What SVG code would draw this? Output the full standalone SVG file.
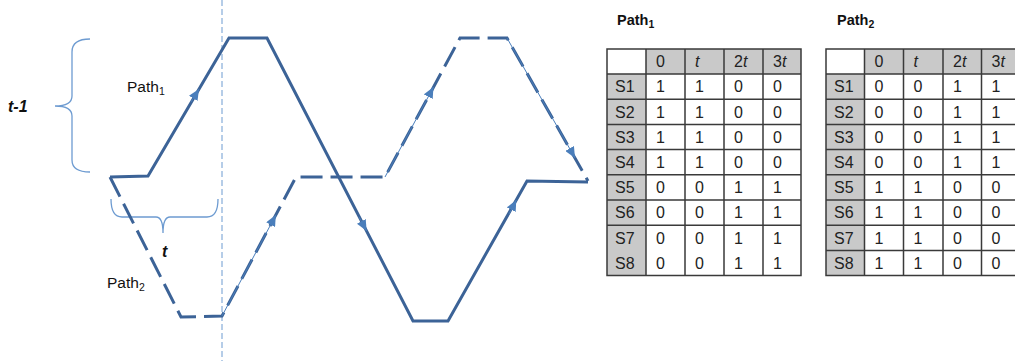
<svg xmlns="http://www.w3.org/2000/svg" width="1015" height="361" viewBox="0 0 1015 361">
<style>
.main{fill:none;stroke:#3c6397;stroke-width:3;stroke-linejoin:miter}
.dash{stroke-dasharray:22 8}
.arr{fill:none;stroke:#4a7ebb;stroke-width:1;marker-end:url(#ah)}
.brace{fill:none;stroke:#6d9bd1;stroke-width:1.3}
.guide{stroke:#6d9bd1;stroke-width:1;stroke-dasharray:6 3}
.lbl{font-family:"Liberation Sans",Arial,sans-serif;font-size:15.5px;fill:#111}
.it{font-family:"Liberation Sans",Arial,sans-serif;font-size:16px;font-style:italic;font-weight:bold;fill:#111}
.ttl{font-family:"Liberation Sans",Arial,sans-serif;font-size:14.5px;font-weight:bold;fill:#111}
.sub{font-size:10.5px}
.cell{font-family:"Liberation Sans",Arial,sans-serif;font-size:16px;fill:#222}
.gray{fill:#c9c9c9}
.grid{stroke:#3a3a3a;stroke-width:1.5;fill:none}
</style>
<defs>
<marker id="ah" markerUnits="userSpaceOnUse" markerWidth="12" markerHeight="10" refX="11" refY="5" orient="auto">
<path d="M0,0 L11,5 L0,10 z" fill="#4a7ebb"/>
</marker>
</defs>
<rect width="1015" height="361" fill="#fff"/>
<line id="guide" class="guide" x1="222" y1="0" x2="222" y2="361"/>
<g id="braces">
<path class="brace" d="M90,39 Q72,39 72,52 L72,96 Q72,106 55,106 Q72,106 72,116 L72,160 Q72,172 90,172"/>
<path class="brace" d="M111,199 Q111,217 122,217 L156,217 Q163,217 163,233 Q163,217 170,217 L207,217 Q218,217 218,199"/>
</g>
<g id="connectors">
<path id="path1" class="main" d="M110,177 L148,176 L229,38 L267,38 L413,321 L448,321 L527,181 L588,182"/>
<path id="path2" class="main dash" d="M110,177 L181,317 L222,316 L296,177 L385,177 L460,38 L507,38 L588,181"/>
<path class="arr" d="M191,102 L199,89"/>
<path class="arr" d="M222,316 L275.8,215"/>
<path class="arr" d="M359,217 L366.6,231"/>
<path class="arr" d="M509,214 L516.3,200"/>
<path class="arr" d="M385,177 L433.5,87"/>
<path class="arr" d="M507,38 L575,158"/>
</g>
<g id="labels">
<text class="it" x="8" y="112">t-1</text>
<text class="it" x="162" y="257">t</text>
<text class="lbl" x="127" y="92">Path<tspan class="sub" dy="3">1</tspan></text>
<text class="lbl" x="107" y="288">Path<tspan class="sub" dy="3">2</tspan></text>
</g>
<g id="table1">
<text class="ttl" x="617" y="25">Path<tspan class="sub" dy="3">1</tspan></text>
<rect class="gray" x="646" y="49" width="155" height="25"/>
<rect class="gray" x="607" y="74" width="39" height="201.6"/>
<path class="grid" d="M607,49 H801 V275.6 H607 Z M646,49 V275.6 M685,49 V275.6 M724,49 V275.6 M763,49 V275.6 M607,74 H801 M607,99.2 H801 M607,124.4 H801 M607,149.6 H801 M607,174.8 H801 M607,200 H801 M607,225.2 H801"/>
<g class="cell">
<text x="656" y="67">0</text><text x="695" y="67" font-style="italic">t</text><text x="734" y="67">2<tspan font-style="italic">t</tspan></text><text x="773" y="67">3<tspan font-style="italic">t</tspan></text>
<text x="615" y="92.4">S1</text><text x="656" y="92.4">1</text><text x="695" y="92.4">1</text><text x="734" y="92.4">0</text><text x="773" y="92.4">0</text>
<text x="615" y="117.6">S2</text><text x="656" y="117.6">1</text><text x="695" y="117.6">1</text><text x="734" y="117.6">0</text><text x="773" y="117.6">0</text>
<text x="615" y="142.8">S3</text><text x="656" y="142.8">1</text><text x="695" y="142.8">1</text><text x="734" y="142.8">0</text><text x="773" y="142.8">0</text>
<text x="615" y="168">S4</text><text x="656" y="168">1</text><text x="695" y="168">1</text><text x="734" y="168">0</text><text x="773" y="168">0</text>
<text x="615" y="193.2">S5</text><text x="656" y="193.2">0</text><text x="695" y="193.2">0</text><text x="734" y="193.2">1</text><text x="773" y="193.2">1</text>
<text x="615" y="218.4">S6</text><text x="656" y="218.4">0</text><text x="695" y="218.4">0</text><text x="734" y="218.4">1</text><text x="773" y="218.4">1</text>
<text x="615" y="243.6">S7</text><text x="656" y="243.6">0</text><text x="695" y="243.6">0</text><text x="734" y="243.6">1</text><text x="773" y="243.6">1</text>
<text x="615" y="268.8">S8</text><text x="656" y="268.8">0</text><text x="695" y="268.8">0</text><text x="734" y="268.8">1</text><text x="773" y="268.8">1</text>
</g>
</g>
<g id="table2">
<text class="ttl" x="837" y="25">Path<tspan class="sub" dy="3">2</tspan></text>
<rect class="gray" x="864.5" y="49" width="160" height="25"/>
<rect class="gray" x="826" y="74" width="38.5" height="201.6"/>
<path class="grid" d="M826,49 H1020 V275.6 H826 Z M864.5,49 V275.6 M903.5,49 V275.6 M943,49 V275.6 M981.5,49 V275.6 M826,74 H1020 M826,99.2 H1020 M826,124.4 H1020 M826,149.6 H1020 M826,174.8 H1020 M826,200 H1020 M826,225.2 H1020 M826,250.4 H1020"/>
<g class="cell">
<text x="874.5" y="67">0</text><text x="913.5" y="67" font-style="italic">t</text><text x="953" y="67">2<tspan font-style="italic">t</tspan></text><text x="991.5" y="67">3<tspan font-style="italic">t</tspan></text>
<text x="834" y="92.4">S1</text><text x="874.5" y="92.4">0</text><text x="913.5" y="92.4">0</text><text x="953" y="92.4">1</text><text x="991.5" y="92.4">1</text>
<text x="834" y="117.6">S2</text><text x="874.5" y="117.6">0</text><text x="913.5" y="117.6">0</text><text x="953" y="117.6">1</text><text x="991.5" y="117.6">1</text>
<text x="834" y="142.8">S3</text><text x="874.5" y="142.8">0</text><text x="913.5" y="142.8">0</text><text x="953" y="142.8">1</text><text x="991.5" y="142.8">1</text>
<text x="834" y="168">S4</text><text x="874.5" y="168">0</text><text x="913.5" y="168">0</text><text x="953" y="168">1</text><text x="991.5" y="168">1</text>
<text x="834" y="193.2">S5</text><text x="874.5" y="193.2">1</text><text x="913.5" y="193.2">1</text><text x="953" y="193.2">0</text><text x="991.5" y="193.2">0</text>
<text x="834" y="218.4">S6</text><text x="874.5" y="218.4">1</text><text x="913.5" y="218.4">1</text><text x="953" y="218.4">0</text><text x="991.5" y="218.4">0</text>
<text x="834" y="243.6">S7</text><text x="874.5" y="243.6">1</text><text x="913.5" y="243.6">1</text><text x="953" y="243.6">0</text><text x="991.5" y="243.6">0</text>
<text x="834" y="268.8">S8</text><text x="874.5" y="268.8">1</text><text x="913.5" y="268.8">1</text><text x="953" y="268.8">0</text><text x="991.5" y="268.8">0</text>
</g>
</g>
</svg>
